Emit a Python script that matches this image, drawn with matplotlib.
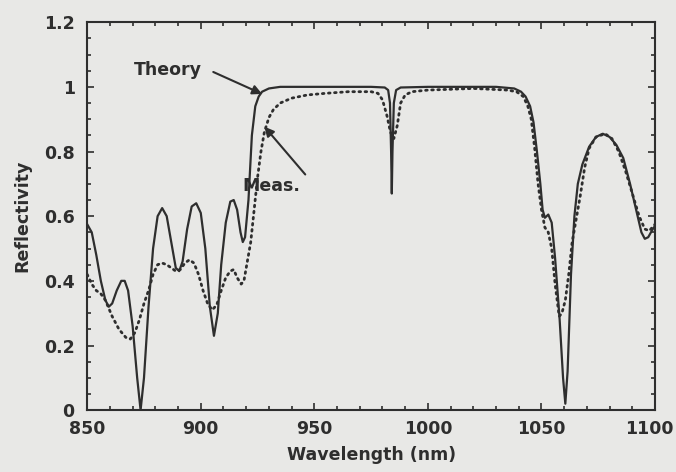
import matplotlib
matplotlib.use('Agg')
import matplotlib.pyplot as plt
import matplotlib.transforms as mtransforms
from matplotlib.ticker import MultipleLocator

# Theory (solid line)
theory_wl = [850, 852, 854, 856, 858, 859.5, 861, 863, 865, 866.5, 868, 870, 872, 873.5,
             875, 877, 879, 881, 883, 885, 887, 889, 890.5, 892, 894, 896, 898, 900,
             902, 904, 905.8, 907.5, 909, 911, 913, 914.5, 916, 917.5, 918.5, 919.5,
             921, 922.5, 924, 925.5, 927, 930, 935, 950, 975, 981, 982.5, 983.3, 983.8,
             984.1, 984.4, 985, 986, 988, 1000, 1030, 1038, 1041, 1043, 1045, 1046.5,
             1048, 1049.5, 1050.5, 1051.5, 1053, 1054.5, 1056, 1058, 1059.5, 1060.5,
             1061.5, 1063, 1064.5, 1066, 1068, 1071, 1074, 1077, 1080, 1083, 1086,
             1089, 1092, 1094, 1095.5, 1097, 1099, 1101]
theory_r = [0.575, 0.55, 0.48, 0.40, 0.34, 0.32, 0.33, 0.37, 0.40, 0.40, 0.37, 0.26, 0.10, 0.0,
            0.10, 0.32, 0.50, 0.60, 0.625, 0.60, 0.52, 0.44, 0.43, 0.46, 0.56, 0.63, 0.64, 0.61,
            0.50, 0.32, 0.23, 0.30, 0.45, 0.58, 0.645, 0.65, 0.62, 0.55, 0.52, 0.535,
            0.65, 0.85, 0.94, 0.97, 0.985, 0.995, 1.0, 1.0, 1.0, 0.998, 0.99, 0.95, 0.80,
            0.67, 0.80, 0.95, 0.99, 0.998, 1.0, 1.0, 0.995, 0.985, 0.97, 0.94, 0.89,
            0.80, 0.70, 0.62, 0.595, 0.605, 0.58, 0.47, 0.28, 0.10, 0.02,
            0.12, 0.42, 0.60, 0.70, 0.76, 0.815, 0.845, 0.855, 0.845, 0.82, 0.78,
            0.70, 0.61, 0.55, 0.53, 0.535, 0.56, 0.58]

# Measured (dotted line)
meas_wl = [850, 852, 854, 856, 858, 861, 864, 867, 869, 871, 873, 875, 877, 879, 881, 883,
           885, 887, 889, 891, 893, 895, 897, 899, 901, 903, 905, 907, 909, 911, 913, 914.5,
           916, 917.8, 919, 920.5, 922, 923.5, 925, 926.5, 928, 930, 932, 935, 940, 947,
           955, 965, 975, 978, 980, 982, 983.5, 985, 986.5, 988, 990, 993, 1000, 1020,
           1035, 1039, 1042, 1044, 1045.5, 1047, 1048.5, 1050, 1051.5, 1053, 1054.5, 1056,
           1057.8, 1059, 1060.5, 1062, 1063.5, 1065, 1067, 1069, 1071, 1074, 1078, 1081,
           1084, 1087, 1090, 1093, 1095.5, 1097.5, 1100]
meas_r = [0.42, 0.39, 0.37, 0.36, 0.34, 0.29, 0.25, 0.225, 0.22, 0.24, 0.28, 0.33, 0.37, 0.42, 0.45, 0.455,
          0.45, 0.44, 0.43, 0.435, 0.455, 0.465, 0.455, 0.42, 0.37, 0.33, 0.31, 0.325, 0.37, 0.41, 0.43, 0.435,
          0.41, 0.39, 0.40, 0.46, 0.52, 0.62, 0.72, 0.80, 0.86, 0.905, 0.93, 0.95, 0.965, 0.975,
          0.98, 0.985, 0.985, 0.98, 0.96, 0.91, 0.86, 0.84, 0.88, 0.95, 0.975, 0.985, 0.99, 0.995,
          0.99, 0.985, 0.97, 0.94, 0.90, 0.81, 0.70, 0.62, 0.565, 0.55, 0.50, 0.39,
          0.29, 0.30, 0.34, 0.42, 0.52, 0.58, 0.66, 0.75, 0.81, 0.845, 0.855, 0.84,
          0.80, 0.74, 0.67, 0.60, 0.56, 0.555, 0.575]

x_ticks = [850, 900, 950, 1000, 1050, 1100]
x_ticklabels = ['850', '900', '950', '1000', '1050', '1100']
y_ticks = [0, 0.2, 0.4, 0.6, 0.8, 1.0, 1.2]
y_ticklabels = ['0', '0.2', '0.4', '0.6', '0.8', '1', '1.2']

bg = '#e8e8e6'
ink = '#2e2e2e'
fs = 12.5
plt.rcParams['font.family'] = ['DejaVu Sans']
plt.rcParams['font.weight'] = 'bold'

fig = plt.figure(figsize=(6.76, 4.72), dpi=100, facecolor=bg)
ax = fig.add_axes([0.129, 0.131, 0.840, 0.822], facecolor=bg)

ax.plot(theory_wl, theory_r, color=ink, lw=1.6)
ax.plot(meas_wl, meas_r, color=ink, lw=2.0, linestyle=(0, (0.6, 1.6)),
        dash_capstyle='round')

ax.set_xlim(850, 1100)
ax.set_ylim(0, 1.2)
# last x label is drawn by hand below, a bit left of the corner like the original
ax.set_xticks(x_ticks)
ax.set_xticklabels(x_ticklabels[:-1] + [''])
ax.xaxis.set_minor_locator(MultipleLocator(10))
ax.set_yticks(y_ticks)
ax.set_yticklabels(y_ticklabels)
ax.yaxis.set_minor_locator(MultipleLocator(0.05))
ax.tick_params(which='both', direction='in', top=True, right=True, colors=ink,
               labelsize=fs, width=1.2)
ax.tick_params(which='major', length=5)
ax.tick_params(axis='x', which='major', pad=7)
ax.tick_params(axis='y', which='major', pad=9)
ax.tick_params(which='minor', length=3)
for s in ax.spines.values():
    s.set_color(ink)
    s.set_linewidth(1.5)

shift = mtransforms.ScaledTranslation(-6 / 100, -7 / 72, fig.dpi_scale_trans)
ax.text(x_ticks[-1], 0, x_ticklabels[-1], fontsize=fs, fontweight='bold', color=ink,
        ha='center', va='top',
        transform=ax.get_xaxis_transform() + shift)

ax.set_xlabel('Wavelength (nm)', fontsize=fs, fontweight='bold', color=ink, labelpad=6)
ax.set_ylabel('Reflectivity', fontsize=fs, fontweight='bold', color=ink, labelpad=9)

ax.text(885.5, 1.052, 'Theory', fontsize=fs, fontweight='bold', color=ink,
        ha='center', va='center')
ax.annotate('', xy=(927, 0.978), xytext=(905.5, 1.046),
            arrowprops=dict(arrowstyle='-|>', color=ink, lw=1.5, mutation_scale=14,
                            shrinkA=0, shrinkB=0))
ax.text(931, 0.692, 'Meas.', fontsize=fs, fontweight='bold', color=ink,
        ha='center', va='center')
ax.annotate('', xy=(928, 0.877), xytext=(946, 0.729),
            arrowprops=dict(arrowstyle='-|>', color=ink, lw=1.5, mutation_scale=14,
                            shrinkA=0, shrinkB=0))

fig.savefig('out.png', dpi=100, facecolor=bg)
